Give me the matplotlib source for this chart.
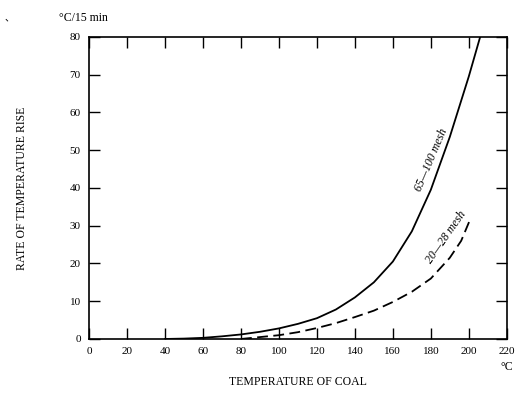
import matplotlib
matplotlib.use("Agg")
from matplotlib import pyplot as plt

plt.rcParams['font.family'] = ['Liberation Serif', 'Noto Sans CJK JP']

# 65-100 mesh (solid)
fine_x = [40, 50, 60, 70, 80, 90, 100, 110, 120, 130, 140, 150, 160, 170,
          180, 190, 200, 206]
fine_y = [0, 0.1, 0.3, 0.7, 1.2, 1.9, 2.8, 4.0, 5.5, 7.8, 11, 15, 20.5,
          28.5, 39.5, 53.5, 69.5, 80]

# 20-28 mesh (dashed)
coarse_x = [80, 90, 100, 110, 120, 130, 140, 150, 160, 170, 180, 190, 196,
            201]
coarse_y = [0, 0.5, 1.0, 1.8, 2.9, 4.2, 5.8, 7.5, 9.8, 12.5, 16, 21.5, 26,
            32]

xticks = list(range(0, 221, 20))
yticks = list(range(0, 81, 10))

fig = plt.figure(figsize=(5.15, 3.96), dpi=100)
ax = fig.add_axes([0.173, 0.144, 0.811, 0.763])

ax.plot(fine_x, fine_y, color="black", lw=1.3)
ax.plot(coarse_x, coarse_y, color="black", lw=1.3, dashes=(6, 3))

ax.set_xlim(0, 220)
ax.set_ylim(0, 80)
ax.set_xticks(xticks)
ax.set_yticks(yticks)
ax.tick_params(direction="in", length=8, width=1, top=True, right=True,
               labelsize=8, pad=6)
for s in ax.spines.values():
    s.set_linewidth(1.2)

ax.text(180.5, 47.5, "65—100 mesh", rotation=67, fontsize=8.5,
        ha="center", va="center", style="italic")
ax.text(188, 27, "20—28 mesh", rotation=55, fontsize=8.5,
        ha="center", va="center", style="italic")

ax.set_ylabel("RATE OF TEMPERATURE RISE", fontsize=8.5, labelpad=30)
ax.set_xlabel("TEMPERATURE OF COAL", fontsize=8.5, labelpad=14)
fig.text(0.115, 0.948, "°C/15 min", fontsize=8.5)
fig.text(0.008, 0.948, "、", fontsize=7)
fig.text(0.972, 0.065, "°C", fontsize=8.5)

fig.savefig("out.png", dpi=100)
